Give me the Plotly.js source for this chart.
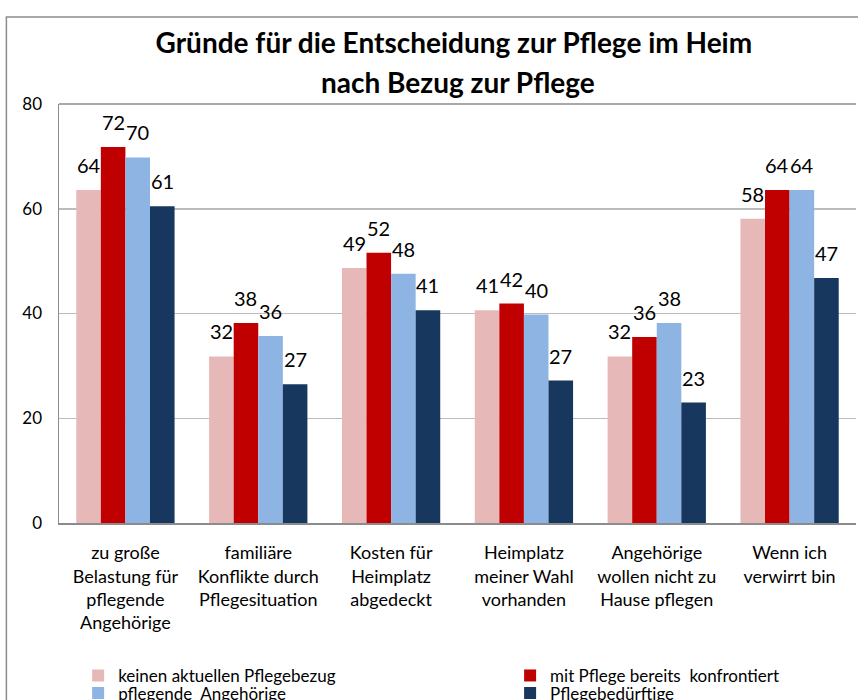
<!DOCTYPE html>
<html>
<head>
<meta charset="utf-8">
<script src="https://cdn.plot.ly/plotly-3.0.1.min.js"></script>
<style>html,body{margin:0;padding:0;background:#fff;}#chart{width:858px;height:700px;}</style>
</head>
<body>
<div id="chart"></div>
<script>
const categories = [
  "zu große<br>Belastung für<br>pflegende<br>Angehörige",
  "familiäre<br>Konflikte durch<br>Pflegesituation",
  "Kosten für<br>Heimplatz<br>abgedeckt",
  "Heimplatz<br>meiner Wahl<br>vorhanden",
  "Angehörige<br>wollen nicht zu<br>Hause pflegen",
  "Wenn ich<br>verwirrt bin"
];
const seriesNames = [
  "keinen aktuellen Pflegebezug",
  "mit Pflege bereits  konfrontiert",
  "pflegende  Angehörige",
  "Pflegebedürftige"
];
const keinenBezug   = [63.6, 31.8, 48.7, 40.6, 31.8, 58.1];
const mitPflege     = [71.8, 38.2, 51.6, 41.9, 35.5, 63.6];
const angehoerige   = [69.8, 35.7, 47.6, 39.8, 38.2, 63.6];
const beduerftige   = [60.5, 26.5, 40.6, 27.2, 23.0, 46.8];
const yTicks = [0, 20, 40, 60, 80];
const titleLines = ["Gründe für die Entscheidung zur Pflege im Heim", "nach Bezug zur Pflege"];

const seriesValues = [keinenBezug, mitPflege, angehoerige, beduerftige];
const colors = ["#E6B9B8", "#C00000", "#8EB4E3", "#17375E"];
const FONT = "Lato, 'Open Sans', sans-serif";
const bargap = 0.26;
const nSeries = seriesValues.length;
const barW = (1 - bargap) / nSeries;
const legendIds = ["legend", "legend2", "legend3", "legend4"];

const traces = seriesValues.map((vals, j) => ({
  type: "bar",
  name: seriesNames[j],
  x: categories.map((c, i) => i),
  y: vals,
  marker: {color: colors[j]},
  legend: legendIds[j],
  hoverinfo: "y"
}));

const annotations = [];
seriesValues.forEach((vals, j) => {
  vals.forEach((v, i) => {
    annotations.push({
      x: i + (j - (nSeries - 1) / 2) * barW,
      y: v, xref: "x", yref: "y",
      text: String(Math.round(v)),
      showarrow: false, yanchor: "bottom", yshift: 11,
      font: {family: FONT, size: 20, color: "#000"}
    });
  });
});
annotations.push({
  xref: "paper", yref: "paper", x: 0.5, y: 1.0, yshift: 22,
  xanchor: "center", yanchor: "middle", showarrow: false,
  text: titleLines[1],
  font: {family: FONT, size: 28, color: "#000", weight: "bold"}
});

const legendFont = {family: FONT, size: 17, color: "#000"};
const colX = [0.024, 0.566];
const rowY = [-0.322, -0.364];
const legendCfg = (c, r) => ({
  orientation: "h", x: colX[c], xanchor: "left", y: rowY[r], yanchor: "top",
  font: legendFont, bgcolor: "rgba(0,0,0,0)"
});

const layout = {
  width: 858, height: 700,
  margin: {l: 59, r: 2, t: 104, b: 177, autoexpand: false},
  paper_bgcolor: "#fff", plot_bgcolor: "#fff",
  title: {
    text: titleLines[0],
    font: {family: FONT, size: 28, color: "#000", weight: "bold"},
    x: 0.529, xanchor: "center", y: 0.938, yanchor: "middle"
  },
  barmode: "group", bargap: bargap, bargroupgap: 0,
  xaxis: {
    tickmode: "array", tickvals: categories.map((c, i) => i), ticktext: categories,
    range: [-0.5, categories.length - 0.5],
    showline: true, linecolor: "#8c8c8c", linewidth: 1.5,
    ticks: "", showgrid: false, zeroline: false,
    tickfont: {family: FONT, size: 18, color: "#000"},
    ticklabelstandoff: 13, fixedrange: true
  },
  yaxis: {
    range: [0, 80], tickmode: "array", tickvals: yTicks,
    showline: true, linecolor: "#8c8c8c", linewidth: 1.5,
    showgrid: true, gridcolor: "#bcbcbc", gridwidth: 1.5, zeroline: false,
    ticks: "", ticklabelstandoff: 12,
    tickfont: {family: FONT, size: 17, color: "#000"}, fixedrange: true
  },
  legend: legendCfg(0, 0),
  legend2: legendCfg(1, 0),
  legend3: legendCfg(0, 1),
  legend4: legendCfg(1, 1),
  shapes: [
    {type: "rect", xref: "paper", yref: "paper", x0: -0.066, x1: 1.01, y0: -0.45, y1: 1.2076,
     line: {color: "#8c8c8c", width: 1.5}, fillcolor: "rgba(0,0,0,0)", layer: "below"},
    {type: "line", xref: "paper", yref: "paper", x0: 0, x1: 1, y0: 1, y1: 1,
     line: {color: "#8c8c8c", width: 1.5}}
  ],
  annotations: annotations,
  showlegend: true
};

Plotly.newPlot("chart", traces, layout, {displayModeBar: false, staticPlot: true});
</script>
</body>
</html>
